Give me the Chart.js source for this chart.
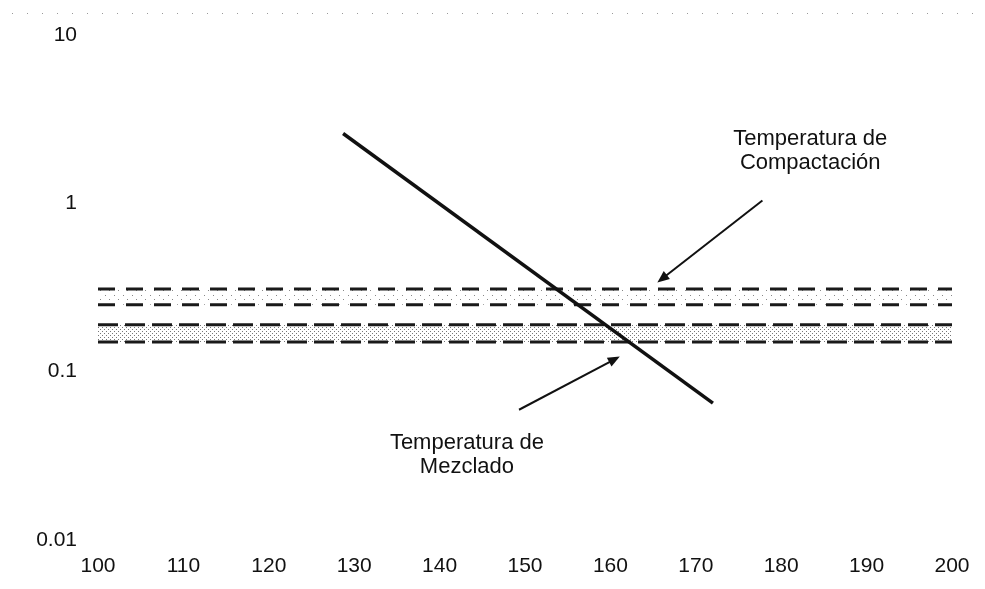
<!DOCTYPE html>
<html>
<head>
<meta charset="utf-8">
<script src="https://cdn.jsdelivr.net/npm/chart.js@4/dist/chart.umd.min.js"></script>
<style>
  body { margin: 0; background: #fff; }
  #wrap { width: 985px; height: 589px; }
</style>
</head>
<body>
<div id="wrap"><canvas id="myChart"></canvas></div>
<script>
// viscosity line (temperature vs viscosity)
const lineTemps = [128.7, 172];
const lineVisc = [2.6, 0.065];

// horizontal ranges
const bandTemps = [100, 200];
const compactRange = [0.31, 0.25];
const mixRange = [0.19, 0.15];

const xTicks = [100, 110, 120, 130, 140, 150, 160, 170, 180, 190, 200];
const yTicks = [0.01, 0.1, 1, 10];

const font = { family: 'Arial, "Liberation Sans", sans-serif', size: 21 };

// little dotted fill like the scanned shading
function stipple(step, dots, color) {
    const c = document.createElement('canvas');
    c.width = c.height = step;
    const g = c.getContext('2d');
    g.fillStyle = color;
    dots.forEach(d => g.fillRect(d[0], d[1], 1, 1));
    return g.createPattern(c, 'repeat');
}

const pts = (xs, ys) => xs.map((v, i) => ({ x: v, y: ys[i] }));
const flat = (xs, v) => xs.map(t => ({ x: t, y: v }));

const notes = [
    { lines: ['Temperatura de', 'Compactación'], x: 183.4, y: 2.4, from: [177.8, 1.04], to: [165.5, 0.339] },
    { lines: ['Temperatura de', 'Mezclado'], x: 143.2, y: 0.0378, from: [149.3, 0.0594], to: [161.1, 0.123] }
];

const notesPlugin = {
    id: 'notes',
    afterDraw(chart) {
        const { ctx } = chart;
        const x = chart.scales.x, y = chart.scales.y;
        ctx.save();

        // faint dotted frame line at the top of the scan
        ctx.strokeStyle = '#999';
        ctx.lineWidth = 1;
        ctx.setLineDash([1, 14]);
        ctx.beginPath();
        ctx.moveTo(12, 13.5);
        ctx.lineTo(980, 13.5);
        ctx.stroke();
        ctx.setLineDash([]);

        ctx.fillStyle = '#111';
        ctx.strokeStyle = '#111';
        ctx.font = '22px Arial, "Liberation Sans", sans-serif';
        ctx.textAlign = 'center';
        ctx.textBaseline = 'middle';
        notes.forEach(n => {
            const cx = x.getPixelForValue(n.x);
            const cy = y.getPixelForValue(n.y);
            n.lines.forEach((t, i) => ctx.fillText(t, cx, cy + i * 24));

            const x0 = x.getPixelForValue(n.from[0]), y0 = y.getPixelForValue(n.from[1]);
            const x1 = x.getPixelForValue(n.to[0]), y1 = y.getPixelForValue(n.to[1]);
            const a = Math.atan2(y1 - y0, x1 - x0);
            ctx.lineWidth = 2;
            ctx.beginPath();
            ctx.moveTo(x0, y0);
            ctx.lineTo(x1 - 8 * Math.cos(a), y1 - 8 * Math.sin(a));
            ctx.stroke();
            ctx.beginPath();
            ctx.moveTo(x1, y1);
            ctx.lineTo(x1 - 12 * Math.cos(a) + 5 * Math.sin(a), y1 - 12 * Math.sin(a) - 5 * Math.cos(a));
            ctx.lineTo(x1 - 12 * Math.cos(a) - 5 * Math.sin(a), y1 - 12 * Math.sin(a) + 5 * Math.cos(a));
            ctx.closePath();
            ctx.fill();
        });
        ctx.restore();
    }
};

const data = {
    datasets: [
        {
            label: 'Viscosidad',
            data: pts(lineTemps, lineVisc),
            borderColor: '#111',
            borderWidth: 3.5,
            pointRadius: 0
        },
        {
            label: 'Compactación sup',
            data: flat(bandTemps, compactRange[0]),
            borderColor: '#1a1a1a',
            borderWidth: 3,
            borderDash: [17, 11],
            pointRadius: 0,
            fill: false
        },
        {
            label: 'Compactación inf',
            data: flat(bandTemps, compactRange[1]),
            borderColor: '#1a1a1a',
            borderWidth: 3,
            borderDash: [17, 11],
            pointRadius: 0,
            fill: '-1',
            backgroundColor: stipple(9, [[1, 2], [6, 7]], '#888')
        },
        {
            label: 'Mezclado sup',
            data: flat(bandTemps, mixRange[0]),
            borderColor: '#1a1a1a',
            borderWidth: 3,
            borderDash: [20, 7],
            pointRadius: 0,
            fill: false
        },
        {
            label: 'Mezclado inf',
            data: flat(bandTemps, mixRange[1]),
            borderColor: '#1a1a1a',
            borderWidth: 3,
            borderDash: [20, 7],
            pointRadius: 0,
            fill: '-1',
            backgroundColor: stipple(4, [[0, 1], [2, 3]], '#777')
        }
    ]
};

const config = {
    type: 'line',
    data: data,
    options: {
        responsive: true,
        maintainAspectRatio: false,
        animation: false,
        layout: { padding: { top: 35, right: 33, left: 0, bottom: 0 } },
        plugins: {
            legend: { display: false },
            tooltip: { enabled: false }
        },
        scales: {
            x: {
                type: 'linear',
                min: 100,
                max: 200,
                grid: { display: false, drawTicks: false },
                border: { display: false },
                afterBuildTicks: s => { s.ticks = xTicks.map(v => ({ value: v })); },
                afterFit: s => { s.height = 49; },
                ticks: { color: '#111', font: font, padding: 14, maxRotation: 0, callback: v => String(v) }
            },
            y: {
                type: 'logarithmic',
                min: 0.01,
                max: 10,
                grid: { display: false, drawTicks: false },
                border: { display: false },
                afterBuildTicks: s => { s.ticks = yTicks.map(v => ({ value: v })); },
                afterFit: s => { s.width = 98; },
                ticks: { color: '#111', font: font, padding: 21, callback: v => String(v) }
            }
        }
    },
    plugins: [notesPlugin]
};

const myChart = new Chart(document.getElementById('myChart'), config);
</script>
</body>
</html>
